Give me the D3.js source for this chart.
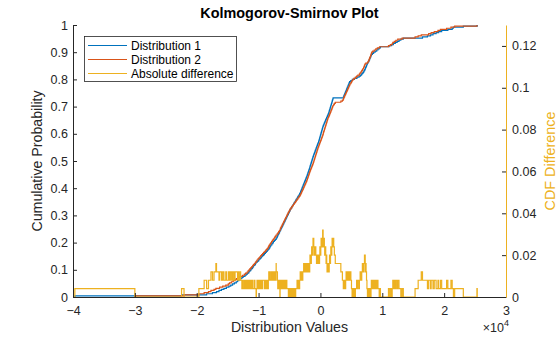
<!DOCTYPE html>
<html>

<head>
	<meta charset='utf-8'>
	<style>
		body { margin: 0; background: #fff; }
		svg { display: block; font-family: 'Liberation Sans', Arial, sans-serif; }
		.tick line { stroke: #262626; }
		.tick text { fill: #262626; font-size: 12.5px; }
	</style>
</head>

<body>
	<svg></svg>
	<script src="https://d3js.org/d3.v7.min.js"></script>
	<script>
		// sample values (raw units, axis shows x10^4)
		var dist1 = [-39700,
			-22450,
			-18400, -17450,
			-16800, -16400, -16000, -15600, -15200,
			-14800, -14500, -14200, -13900, -13600,
			-13400, -13200, -12900, -12700, -12500, -12200, -12000,
			-11800, -11600, -11500, -11300, -11200, -11000, -10900, -10800, -10600, -10500, -10400,
			-10200, -10000, -9900, -9700, -9550, -9400, -9200, -9050, -8900, -8750, -8600, -8450,
			-8300, -8200, -8100, -8000, -7850, -7700, -7600, -7450, -7300, -7150,
			-7050, -6950, -6900, -6800, -6700, -6620, -6550,
			-6450, -6370, -6280, -6200, -6110, -6030, -5940, -5860, -5770, -5690, -5600, -5520, -5430, -5350, -5260, -5180, -5090, -5010, -4930,
			-4850, -4740, -4640, -4530, -4420, -4320, -4210, -4100, -4000, -3890, -3780, -3680, -3570, -3460, -3360,
			-3270, -3200, -3130, -3060, -2990, -2920, -2850, -2780, -2710, -2640, -2570, -2500, -2430, -2360, -2290, -2220,
			-2150, -2090, -2030, -1970, -1910, -1850, -1790, -1730,
			-1690, -1640, -1580, -1530, -1470, -1420, -1360, -1310, -1250, -1200,
			-1140, -1080, -1010, -950, -880, -820, -750, -690, -620, -560, -490, -430, -360,
			-290, -240, -190, -140, -90, -40, 10, 60, 110, 160, 210, 260, 310, 360, 410,
			480, 550, 630, 700, 780, 850, 930, 1000, 1080, 1150, 1230,
			1320, 1370, 1420, 1470, 1530, 1580, 1630, 1680, 1730, 1790, 1840, 1890, 1940, 1990, 2050,
			3720, 3790, 3860, 3930, 4000, 4080, 4150, 4220, 4290, 4360, 4440, 4510, 4580, 4650, 4720,
			4900, 5150,
			5500, 5900, 6250,
			6480, 6650, 6800, 6950, 7050, 7150,
			7240, 7300, 7380, 7450, 7520, 7600, 7680,
			7800, 7880, 7950, 8020, 8100, 8170, 8250,
			8400, 8600, 8850, 9100, 9300, 9500,
			9700,
			11100, 11500, 11800, 12100, 12400,
			12700, 13000, 13400,
			16500,
			17300, 17800, 18200, 18700, 19100,
			19600,
			20600, 21300, 21500,
			23100,
			25350];

		var dist2 = [-30000,
			-22050,
			-19650,
			-18800, -18100, -17700, -17200,
			-16900, -16300, -15800, -15300,
			-14900, -14700, -14400, -14100, -13800, -13600,
			-13300, -13000, -12600, -12300, -12100,
			-11850, -11700, -11550, -11400, -11250, -11100, -10950, -10800, -10650, -10500, -10350,
			-10250, -10100, -9950, -9800, -9650, -9500, -9350, -9200, -9000, -8850, -8700, -8550, -8420,
			-8350, -8250, -8120, -8000, -7900, -7780, -7650, -7520, -7400, -7280, -7160,
			-7000, -6880, -6750, -6640, -6520,
			-6480, -6400, -6310, -6220, -6130, -6050, -5960, -5870, -5780, -5700, -5610, -5520, -5440, -5350, -5260, -5170, -5080, -4970,
			-4880, -4760, -4630, -4510, -4380, -4260, -4140, -4010, -3890, -3760, -3640, -3510, -3390,
			-3260, -3180, -3100, -3020, -2940, -2860, -2780, -2700, -2620, -2540, -2460, -2380, -2300, -2220,
			-2160, -2100, -2040, -1980, -1920, -1860, -1800, -1740,
			-1680, -1610, -1540, -1475, -1400, -1330, -1260, -1190,
			-1135, -1075, -1020, -965, -910, -855, -800, -745, -690, -635, -580, -525, -470, -415, -355,
			-280, -215, -150, -85, -20, 45, 115, 175, 240, 305, 370, 435,
			470, 520, 580, 635, 690, 740, 800, 855, 910, 960, 1020, 1070, 1130, 1180, 1240,
			1330, 1400, 1475, 1540, 1610, 1685, 1750, 1820, 1895, 1960, 2030,
			2150, 2250, 2400, 3300, 3550, 3700,
			3750, 3830, 3910, 3990, 4070, 4155, 4230, 4310, 4390, 4470, 4550, 4630, 4710,
			4790, 4920, 5020, 5120, 5250,
			5400, 5650, 5850, 6050, 6300,
			6420, 6550, 6680, 6780, 6880, 6980, 7060, 7120, 7180,
			7330, 7620,
			7760, 7830, 7900, 7970, 8040, 8110, 8180, 8230, 8280,
			8450, 8700, 8950, 9200, 9550,
			11000, 11300, 11600, 11700, 11950, 12200, 12500,
			13200,
			15300,
			15800, 16300,
			17500, 17900, 18400, 19000,
			19400,
			20400, 21100, 21700,
			25300];

		var xTicks = [-40000, -30000, -20000, -10000, 0, 10000, 20000, 30000];
		var yTicks = [0, 0.1, 0.2, 0.3, 0.4, 0.5, 0.6, 0.7, 0.8, 0.9, 1];
		var rTicks = [0, 0.02, 0.04, 0.06, 0.08, 0.1, 0.12];
		var seriesNames = ['Distribution 1', 'Distribution 2', 'Absolute difference'];
		var colors = ['#0072BD', '#D95319', '#EDB120'];

		var W = 560, H = 337;
		var plotL = 73, plotR = 506, plotT = 25, plotB = 297;

		var svg = d3.select('svg').attr('width', W).attr('height', H);

		var x = d3.scaleLinear().domain([-40000, 30000]).range([plotL, plotR]);
		var y = d3.scaleLinear().domain([0, 1]).range([plotB, plotT]);
		var yR = d3.scaleLinear().domain([0, 0.13]).range([plotB, plotT]);

		// empirical cdfs
		var s1 = dist1.slice().sort(d3.ascending);
		var s2 = dist2.slice().sort(d3.ascending);
		function ecdfPoints(s) {
			var pts = [[s[0], 0]];
			s.forEach(function (v, i) { pts.push([v, (i + 1) / s.length]); });
			return pts;
		}
		var allX = Array.from(new Set(s1.concat(s2))).sort(d3.ascending);
		var diffPts = [[allX[0], 0]];
		allX.forEach(function (v) {
			var f1 = d3.bisectRight(s1, v) / s1.length;
			var f2 = d3.bisectRight(s2, v) / s2.length;
			diffPts.push([v, Math.abs(f1 - f2)]);
		});

		var lineL = d3.line().x(d => x(d[0])).y(d => y(d[1])).curve(d3.curveStepAfter);
		var lineR = d3.line().x(d => x(d[0])).y(d => yR(d[1])).curve(d3.curveStepAfter);

		svg.append('path').attr('d', lineL(ecdfPoints(s1))).attr('fill', 'none').attr('stroke', colors[0]).attr('stroke-width', 1.2);
		svg.append('path').attr('d', lineL(ecdfPoints(s2))).attr('fill', 'none').attr('stroke', colors[1]).attr('stroke-width', 1.2);
		svg.append('path').attr('d', lineR(diffPts)).attr('fill', 'none').attr('stroke', colors[2]).attr('stroke-width', 1.2);

		// axes
		var xAxis = d3.axisBottom(x).tickValues(xTicks).tickSizeInner(-4).tickSizeOuter(0).tickPadding(9)
			.tickFormat(d => d3.format('d')(d / 10000));
		var gx = svg.append('g').attr('transform', 'translate(0,' + plotB + ')').call(xAxis);
		gx.select('.domain').attr('stroke', '#262626');

		var yAxis = d3.axisLeft(y).tickValues(yTicks).tickSizeInner(-4).tickSizeOuter(0).tickPadding(5)
			.tickFormat(d3.format('~g'));
		var gy = svg.append('g').attr('transform', 'translate(' + plotL + ',0)').call(yAxis);
		gy.select('.domain').attr('stroke', '#262626');

		var rAxis = d3.axisRight(yR).tickValues(rTicks).tickSizeInner(-4).tickSizeOuter(0).tickPadding(6)
			.tickFormat(d3.format('~g'));
		var gr = svg.append('g').attr('transform', 'translate(' + plotR + ',0)').call(rAxis);
		gr.select('.domain').attr('stroke', colors[2]);
		gr.selectAll('.tick line').attr('stroke', colors[2]);
		gr.selectAll('.tick text').attr('fill', colors[2]);

		// labels
		svg.append('text').attr('x', (plotL + plotR) / 2).attr('y', 18).attr('text-anchor', 'middle')
			.attr('font-size', 14.4).attr('font-weight', 'bold').attr('fill', '#000').text('Kolmogorov-Smirnov Plot');
		svg.append('text').attr('x', (plotL + plotR) / 2).attr('y', 332).attr('text-anchor', 'middle')
			.attr('font-size', 14.2).attr('fill', '#262626').text('Distribution Values');
		svg.append('text').attr('transform', 'translate(42,' + (plotT + plotB) / 2 + ') rotate(-90)').attr('text-anchor', 'middle')
			.attr('font-size', 14.2).attr('fill', '#262626').text('Cumulative Probability');
		svg.append('text').attr('transform', 'translate(555,' + (plotT + plotB) / 2 + ') rotate(-90)').attr('text-anchor', 'middle')
			.attr('font-size', 14.4).attr('fill', colors[2]).text('CDF Difference');
		var ex = svg.append('text').attr('x', plotR + 3).attr('y', 332).attr('text-anchor', 'end')
			.attr('font-size', 12.5).attr('fill', '#262626');
		ex.append('tspan').text('\u00d710');
		ex.append('tspan').attr('dy', -6).attr('font-size', 9).text('4');

		// legend
		var lg = svg.append('g');
		lg.append('rect').attr('x', 84.5).attr('y', 36.5).attr('width', 152).attr('height', 45)
			.attr('fill', '#fff').attr('stroke', '#262626').attr('stroke-width', 0.8);
		seriesNames.forEach(function (nm, i) {
			var ly = 45.5 + i * 14;
			lg.append('line').attr('x1', 88).attr('x2', 127).attr('y1', ly).attr('y2', ly)
				.attr('stroke', colors[i]).attr('stroke-width', 1.2);
			lg.append('text').attr('x', 131).attr('y', ly + 4.2).attr('font-size', 12).attr('fill', '#000').text(nm);
		});
	</script>
</body>

</html>
